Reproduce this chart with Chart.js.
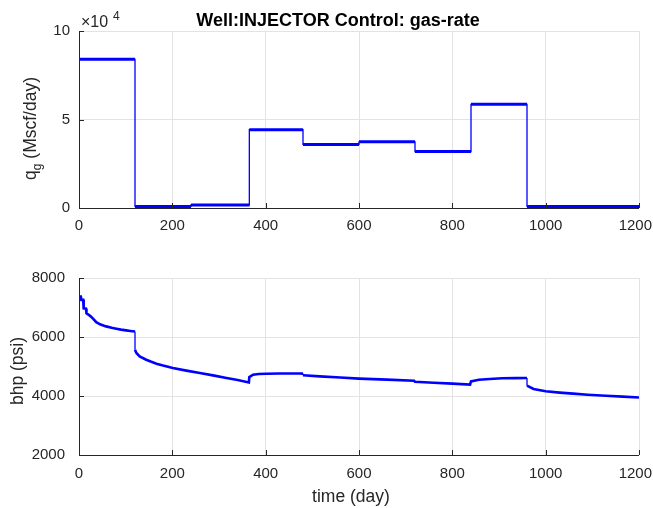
<!DOCTYPE html>
<html>
<head>
<meta charset="utf-8">
<script src="https://cdn.jsdelivr.net/npm/chart.js@4.4.1/dist/chart.umd.min.js"></script>
<style>
  html, body { margin: 0; padding: 0; background: #fff; }
  #wrap { position: relative; width: 653px; height: 508px; }
  .box { position: absolute; left: 0; width: 653px; height: 254px; }
</style>
</head>
<body>
<div id="wrap">
  <div class="box" style="top:0"><canvas id="rate"></canvas></div>
  <div class="box" style="top:254px"><canvas id="bhp"></canvas></div>
</div>
<script>
/* Well:INJECTOR control - gas rate steps and bottom-hole pressure */

// control periods: start day and injected gas rate (Mscf/day)
const stepStart = [0, 120, 240, 365, 480, 600, 720, 840, 960];
const stepEnd = 1200;
const gasRate = [84000, 900, 1700, 44200, 35900, 37400, 31900, 58600, 900];

// bottom-hole pressure (psi); repeated days are the jumps at control changes
const bhpTime = [0, 4, 5, 9, 10, 15, 16, 20, 25, 30, 37, 45, 58, 70, 80, 90, 101, 110, 120,
  120, 123, 130, 144, 155, 166, 180, 201, 230, 259, 290, 316, 340, 364,
  365, 373, 385, 401, 430, 473, 480,
  480, 516, 560, 600, 660, 718,
  720, 760, 800, 838,
  840, 857, 880, 907, 935, 960,
  960, 974, 1000, 1030, 1059, 1090, 1129, 1165, 1200];
const bhpVal = [7370, 7370, 7260, 7260, 6970, 6960, 6800, 6760, 6700, 6620, 6500, 6430, 6360, 6310, 6280, 6250, 6225, 6205, 6185,
  5570, 5460, 5345, 5230, 5160, 5095, 5030, 4950, 4860, 4780, 4690, 4610, 4540, 4460,
  4640, 4720, 4745, 4755, 4765, 4765, 4760,
  4705, 4665, 4625, 4590, 4555, 4520,
  4480, 4450, 4420, 4385,
  4495, 4550, 4575, 4600, 4607, 4610,
  4350, 4240, 4160, 4115, 4080, 4045, 4010, 3980, 3950];

const timeTicks = [0, 200, 400, 600, 800, 1000, 1200];
const rateTicks = [0, 50000, 100000];
const bhpTicks = [2000, 4000, 6000, 8000];

const FONT = '"Liberation Sans", Arial, Helvetica, sans-serif';
const INK = '#262626';
const GRID = '#e3e3e3';
const BLUE = '#0000ff';

// MATLAB-like axes: dark left/bottom lines with inward ticks, x labels kept inside the figure
function axesPlugin(xLabelY, extra) {
  return {
    id: 'mlAxes',
    afterDraw(chart) {
      const { ctx, chartArea: a, scales, width } = chart;
      ctx.save();
      ctx.strokeStyle = INK;
      ctx.lineWidth = 1;
      ctx.beginPath();
      ctx.moveTo(a.left + 0.5, a.top);
      ctx.lineTo(a.left + 0.5, a.bottom + 0.5);
      ctx.lineTo(a.right, a.bottom + 0.5);
      scales.x.ticks.forEach((t) => {
        const px = Math.round(scales.x.getPixelForValue(t.value)) + 0.5;
        ctx.moveTo(px, a.bottom); ctx.lineTo(px, a.bottom - 5);
      });
      scales.y.ticks.forEach((t) => {
        const py = Math.round(scales.y.getPixelForValue(t.value)) + 0.5;
        ctx.moveTo(a.left, py); ctx.lineTo(a.left + 5, py);
      });
      ctx.stroke();
      ctx.fillStyle = INK;
      ctx.font = `15px ${FONT}`;
      ctx.textAlign = 'center';
      ctx.textBaseline = 'middle';
      timeTicks.forEach((v) => {
        const s = String(v), w = ctx.measureText(s).width;
        let px = scales.x.getPixelForValue(v);
        px = Math.min(px, width - 1 - w / 2);
        ctx.fillText(s, px, xLabelY);
      });
      ctx.textBaseline = 'alphabetic';
      extra(ctx);
      ctx.restore();
    }
  };
}

function fixedTicks(list) {
  return (scale) => { scale.ticks = list.map((v) => ({ value: v })); };
}

function baseScales(yMin, yMax, yList, yFmt, yPad, xHeight) {
  return {
    x: {
      type: 'linear', min: 0, max: 1200,
      afterBuildTicks: fixedTicks(timeTicks),
      afterFit: (s) => { s.height = xHeight; s.paddingLeft = 0; s.paddingRight = 0; },
      grid: { color: GRID, drawTicks: false },
      border: { display: false },
      ticks: { display: false }
    },
    y: {
      min: yMin, max: yMax,
      afterBuildTicks: fixedTicks(yList),
      afterFit: (s) => { s.width = 79; s.paddingTop = 0; s.paddingBottom = 0; },
      grid: { color: GRID, drawTicks: false },
      border: { display: false },
      ticks: { color: INK, font: { family: FONT, size: 15 }, padding: yPad, callback: yFmt }
    }
  };
}

// top: gas rate, stepped
const rateLine = stepStart.map((t, i) => ({ x: t, y: gasRate[i] }));
rateLine.push({ x: stepEnd, y: gasRate[gasRate.length - 1] });
const rateFlats = [];
stepStart.forEach((t, i) => {
  const end = i + 1 < stepStart.length ? stepStart[i + 1] : stepEnd;
  rateFlats.push({ x: t, y: gasRate[i] }, { x: end, y: gasRate[i] }, { x: end, y: null });
});

new Chart(document.getElementById('rate'), {
  type: 'line',
  data: {
    datasets: [
      { data: rateLine, stepped: 'before', borderColor: BLUE, borderWidth: 1.3, pointRadius: 0 },
      { data: rateFlats, spanGaps: false, borderColor: BLUE, borderWidth: 3, pointRadius: 0 }
    ]
  },
  options: {
    responsive: true, maintainAspectRatio: false, animation: false,
    layout: { padding: { top: 31, right: 14, left: 0, bottom: 0 } },
    plugins: { legend: { display: false }, tooltip: { enabled: false } },
    scales: baseScales(0, 100000, rateTicks, (v) => String(v / 10000), 9, 46)
  },
  plugins: [axesPlugin(226, (ctx) => {
    ctx.textAlign = 'center';
    ctx.font = `bold 18px ${FONT}`;
    ctx.fillStyle = '#000';
    ctx.fillText('Well:INJECTOR Control: gas-rate', 338, 26);
    ctx.fillStyle = INK;
    ctx.textAlign = 'left';
    ctx.font = `16px ${FONT}`;
    ctx.fillText('\u00d710', 81, 27);
    ctx.font = `12px ${FONT}`;
    ctx.fillText('4', 113, 20);
    // y label with subscript
    ctx.translate(36, 128.5);
    ctx.rotate(-Math.PI / 2);
    const big = `17.5px ${FONT}`, small = `12px ${FONT}`;
    ctx.font = big; const wq = ctx.measureText('q').width;
    const wr = ctx.measureText(' (Mscf/day)').width;
    ctx.font = small; const wg = ctx.measureText('g').width;
    let x0 = -(wq + wg + wr) / 2;
    ctx.font = big; ctx.fillText('q', x0, 0); x0 += wq;
    ctx.font = small; ctx.fillText('g', x0, 5); x0 += wg;
    ctx.font = big; ctx.fillText(' (Mscf/day)', x0, 0);
  })]
});

// bottom: bhp
const bhpPts = bhpTime.map((t, i) => ({ x: t, y: bhpVal[i] }));
new Chart(document.getElementById('bhp'), {
  type: 'line',
  data: {
    datasets: [{
      data: bhpPts, borderColor: BLUE, borderWidth: 2.6, pointRadius: 0, tension: 0,
      segment: { borderWidth: (c) => (c.p0.parsed.x === c.p1.parsed.x ? 1.3 : 2.6) }
    }]
  },
  options: {
    responsive: true, maintainAspectRatio: false, animation: false,
    layout: { padding: { top: 24, right: 14, left: 0, bottom: 0 } },
    plugins: { legend: { display: false }, tooltip: { enabled: false } },
    scales: baseScales(2000, 8000, bhpTicks, (v) => String(v), 14, 53)
  },
  plugins: [axesPlugin(219.5, (ctx) => {
    ctx.textAlign = 'center';
    ctx.font = `17.5px ${FONT}`;
    ctx.fillText('time (day)', 351, 248);
    ctx.translate(22.5, 117);
    ctx.rotate(-Math.PI / 2);
    ctx.fillText('bhp (psi)', 0, 0);
  })]
});
</script>
</body>
</html>
